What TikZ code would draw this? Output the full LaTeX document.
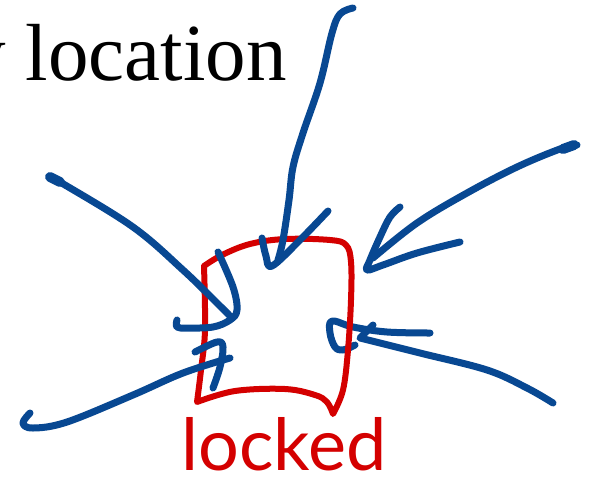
\documentclass[tikz,border=0pt]{standalone}
\usepackage{fontspec}
\setmainfont{Liberation Serif}
\newfontfamily\handfont{Lato}
\definecolor{inkblue}{RGB}{8,72,146}
\definecolor{inkred}{RGB}{212,0,0}
\begin{document}
\begin{tikzpicture}[x=1pt,y=-1pt,
  blueink/.style={draw=inkblue,line width=7pt,line cap=round,line join=round},
  redink/.style={draw=inkred,line width=6pt,line cap=round,line join=round},
  titletext/.style={font=\fontsize{81}{90}\selectfont,inner sep=0pt},
  handtext/.style={font=\handfont\fontsize{72}{80}\selectfont,text=inkred,inner sep=0pt}]
\useasboundingbox (0,0) rectangle (591,480);
\clip (0,0) rectangle (591,480);
\fill[white] (0,0) rectangle (591,480);

\node[titletext,anchor=base east] (title) at (287,80) {y location};

% right middle arrow (under the red square)
\draw[blueink] plot[smooth,tension=0.6] coordinates {(430,333) (387,332) (353,327) (332,321) (330,333) (335,347) (343,350) (355,345)};
\draw[blueink] plot[smooth,tension=0.6] coordinates {(553,403) (527,388) (487,370) (420,353) (360,338)} -- (373,325);

% red square
\draw[redink] plot[smooth,tension=0.6] coordinates {(204,266) (222,255) (250,244) (285,239) (330,240) (346,245) (351,262) (351,300) (348,350) (343,390) (333,414)}
  -- plot[smooth,tension=0.6] coordinates {(333,414) (327,402) (315,395) (285,389) (235,391) (197,402)}
  -- plot[smooth,tension=0.6] coordinates {(197,402) (201,370) (205,330) (204,266)};

% top arrow
\draw[blueink] plot[smooth,tension=0.6] coordinates {(353,8) (340,14) (332,33) (320,83) (303,133) (293,167) (289,200) (283,240) (278,260)};
\draw[blueink] plot[smooth,tension=0.6] coordinates {(262,238) (266,256) (272,266) (300,240) (328,211)};

% upper right arrow
\draw[blueink] plot[smooth,tension=0.6] coordinates {(577,145) (560,149) (517,167) (467,193) (417,223) (373,258)};
\draw[blueink,line width=10pt] (563,149) -- (574,145);
\draw[blueink] plot[smooth,tension=0.6] coordinates {(400,207) (390,217) (380,237) (370,260) (367,270) (383,265) (417,253) (460,242)};

% upper left arrow
\draw[blueink] plot[smooth,tension=0.6] coordinates {(50,177) (60,182) (133,227) (183,270) (217,303) (232,318)};
\draw[blueink,line width=10pt] (50,177) -- (60,182);
\draw[blueink] plot[smooth,tension=0.6] coordinates {(218,252) (233,287) (237,310) (230,320) (213,327) (187,328) (177,327) (177,320)};

% lower left arrow
\draw[blueink] plot[smooth,tension=0.6] coordinates {(30,413) (23,423) (33,428) (67,422) (133,395) (183,373) (230,358)};
\draw[blueink] plot[smooth,tension=0.6] coordinates {(195,352) (217,342) (223,347) (220,367) (213,388)};

\node[handtext,anchor=base] (locked) at (284,470) {locked};
\end{tikzpicture}
\end{document}
